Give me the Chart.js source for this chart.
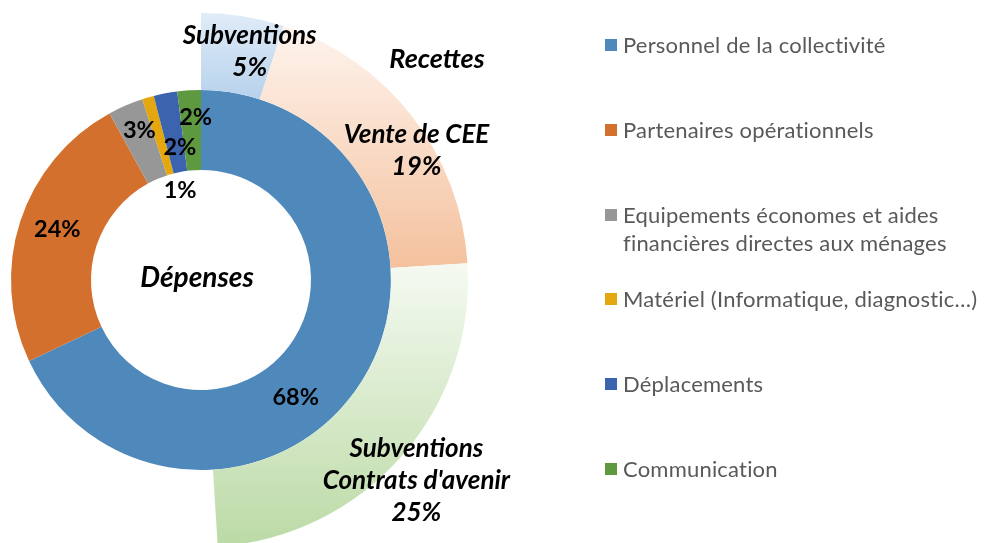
<!DOCTYPE html>
<html lang="fr">
<head>
<meta charset="UTF-8">
<title>Dépenses et recettes</title>
<style>
    html, body {
        margin: 0;
        padding: 0;
        width: 985px;
        height: 543px;
        overflow: hidden;
        background: #fff;
    }
    #chart {
        position: absolute;
        left: -66px;   /* la partie gauche de l'anneau extérieur est vide */
        top: 0;
    }
    .legend {
        position: absolute;
        left: 605px;
        top: 0;
        font-family: Lato, sans-serif;
        font-size: 22px;
        letter-spacing: 0.2px;
        color: #595959;
    }
    .legend-item {
        position: absolute;
        left: 0;
        line-height: 28px;
        white-space: pre;
    }
    .legend-item .box {
        position: absolute;
        left: 0;
        top: 8px;
        width: 12px;
        height: 12px;
    }
    .legend-item .txt {
        position: absolute;
        left: 18px;
        top: 0;
    }
</style>
</head>
<body>

<canvas id="chart" width="1051" height="552"></canvas>
<div class="legend" id="legend"></div>

<script src="https://cdn.jsdelivr.net/npm/chart.js"></script>
<script>
// Dépenses (anneau intérieur)
const categories = [
    'Personnel de la collectivité',
    'Partenaires opérationnels',
    'Equipements économes et aides\nfinancières directes aux ménages',
    'Matériel (Informatique, diagnostic…)',
    'Déplacements',
    'Communication'
];
const depenses = [68, 24, 3, 1, 2, 2];
const depenseColors = ['#4F89BC', '#D3702D', '#979797', '#E4A70E', '#3B63AE', '#5F993F'];

// Recettes (anneau extérieur, ne couvre qu'une moitié)
const recetteLabels = ['Subventions', 'Vente de CEE', "Subventions\nContrats d'avenir"];
const recettes = [5, 19, 25];
const recetteGradients = [
    ['#E0ECF8', '#B7D2EC'],
    ['#FEF4EE', '#F4C19D'],
    ['#F5FAF2', '#BBDAA5']
];

// petits décalages des étiquettes par rapport au centre des arcs
const depenseNudge = [[-32, 37], [-1, -4], [-2, -12], [21, 54], [7, 15], [4, -13]];
const recetteNudge = [[13, -3], [35, 11], [44, 49]];

const ringWeights = { outer: 77, inner: 80 };
const holeCutout = 41.2;

// dégradé vertical pour chaque part des recettes
function recetteFill(ctx) {
    const i = ctx.dataIndex;
    if (ctx.type !== 'data' || i === undefined || i >= recettes.length) return 'rgba(0,0,0,0)';
    const area = ctx.chart.chartArea;
    if (!area) return recetteGradients[i][1];
    const cy = (area.top + area.bottom) / 2;
    const r = Math.min(area.width, area.height) / 2;
    const hole = r * holeCutout / 100;
    const rIn = hole + (r - hole) * ringWeights.inner / (ringWeights.inner + ringWeights.outer);
    const data = ctx.dataset.data;
    const total = data.reduce((a, b) => a + b, 0);
    let before = 0;
    for (let k = 0; k < i; k++) before += data[k];
    const a0 = before / total * 2 * Math.PI;
    const a1 = (before + data[i]) / total * 2 * Math.PI;
    const ys = [];
    [a0, a1].forEach(a => {
        ys.push(cy - r * Math.cos(a));
        ys.push(cy - rIn * Math.cos(a));
    });
    if (a0 < Math.PI && a1 > Math.PI) ys.push(cy + r);
    const g = ctx.chart.ctx.createLinearGradient(0, Math.min(...ys), 0, Math.max(...ys));
    g.addColorStop(0, recetteGradients[i][0]);
    g.addColorStop(1, recetteGradients[i][1]);
    return g;
}

const ringLabels = {
    id: 'ringLabels',
    afterDatasetsDraw(chart) {
        const c = chart.ctx;
        c.save();
        c.textAlign = 'center';
        c.textBaseline = 'middle';
        c.fillStyle = '#000';

        const inner = chart.getDatasetMeta(1);
        c.font = 'bold 23.5px Lato';
        inner.data.forEach((arc, i) => {
            const p = arc.tooltipPosition();
            c.fillText(depenses[i] + '%', p.x + depenseNudge[i][0], p.y + depenseNudge[i][1]);
        });

        const outer = chart.getDatasetMeta(0);
        c.font = 'italic bold 26px Lato';
        recettes.forEach((v, i) => {
            const p = outer.data[i].tooltipPosition();
            const lines = recetteLabels[i].split('\n').concat(v + '%');
            lines.forEach((t, k) => {
                c.fillText(t, p.x + recetteNudge[i][0], p.y + recetteNudge[i][1] + (k - (lines.length - 1) / 2) * 32);
            });
        });

        const cx = inner.data[0].x, cy = inner.data[0].y;
        c.font = 'italic bold 28px Lato';
        c.fillText('Dépenses', cx - 4, cy - 2);
        c.font = 'italic bold 27px Lato';
        c.fillText('Recettes', cx + 236, cy - 221);
        c.restore();
    }
};

new Chart(document.getElementById('chart'), {
    type: 'doughnut',
    data: {
        labels: categories,
        datasets: [
            {
                label: 'Recettes',
                data: recettes.concat([100 - recettes.reduce((a, b) => a + b, 0)]),
                backgroundColor: recetteFill,
                borderWidth: 0,
                weight: ringWeights.outer
            },
            {
                label: 'Dépenses',
                data: depenses,
                backgroundColor: depenseColors,
                borderWidth: 0,
                weight: ringWeights.inner
            }
        ]
    },
    options: {
        responsive: false,
        animation: false,
        cutout: holeCutout + '%',
        layout: { padding: { left: 0, top: 13, right: 517, bottom: 5 } },
        plugins: {
            legend: { display: false },
            tooltip: { enabled: false }
        }
    },
    plugins: [ringLabels]
});

// légende HTML
const legend = document.getElementById('legend');
categories.forEach((name, i) => {
    const item = document.createElement('div');
    item.className = 'legend-item';
    item.style.top = (31 + i * 84.8) + 'px';
    item.innerHTML = '<span class="box"></span><span class="txt"></span>';
    item.querySelector('.box').style.background = depenseColors[i];
    item.querySelector('.txt').textContent = name;
    legend.appendChild(item);
});
</script>

</body>
</html>
